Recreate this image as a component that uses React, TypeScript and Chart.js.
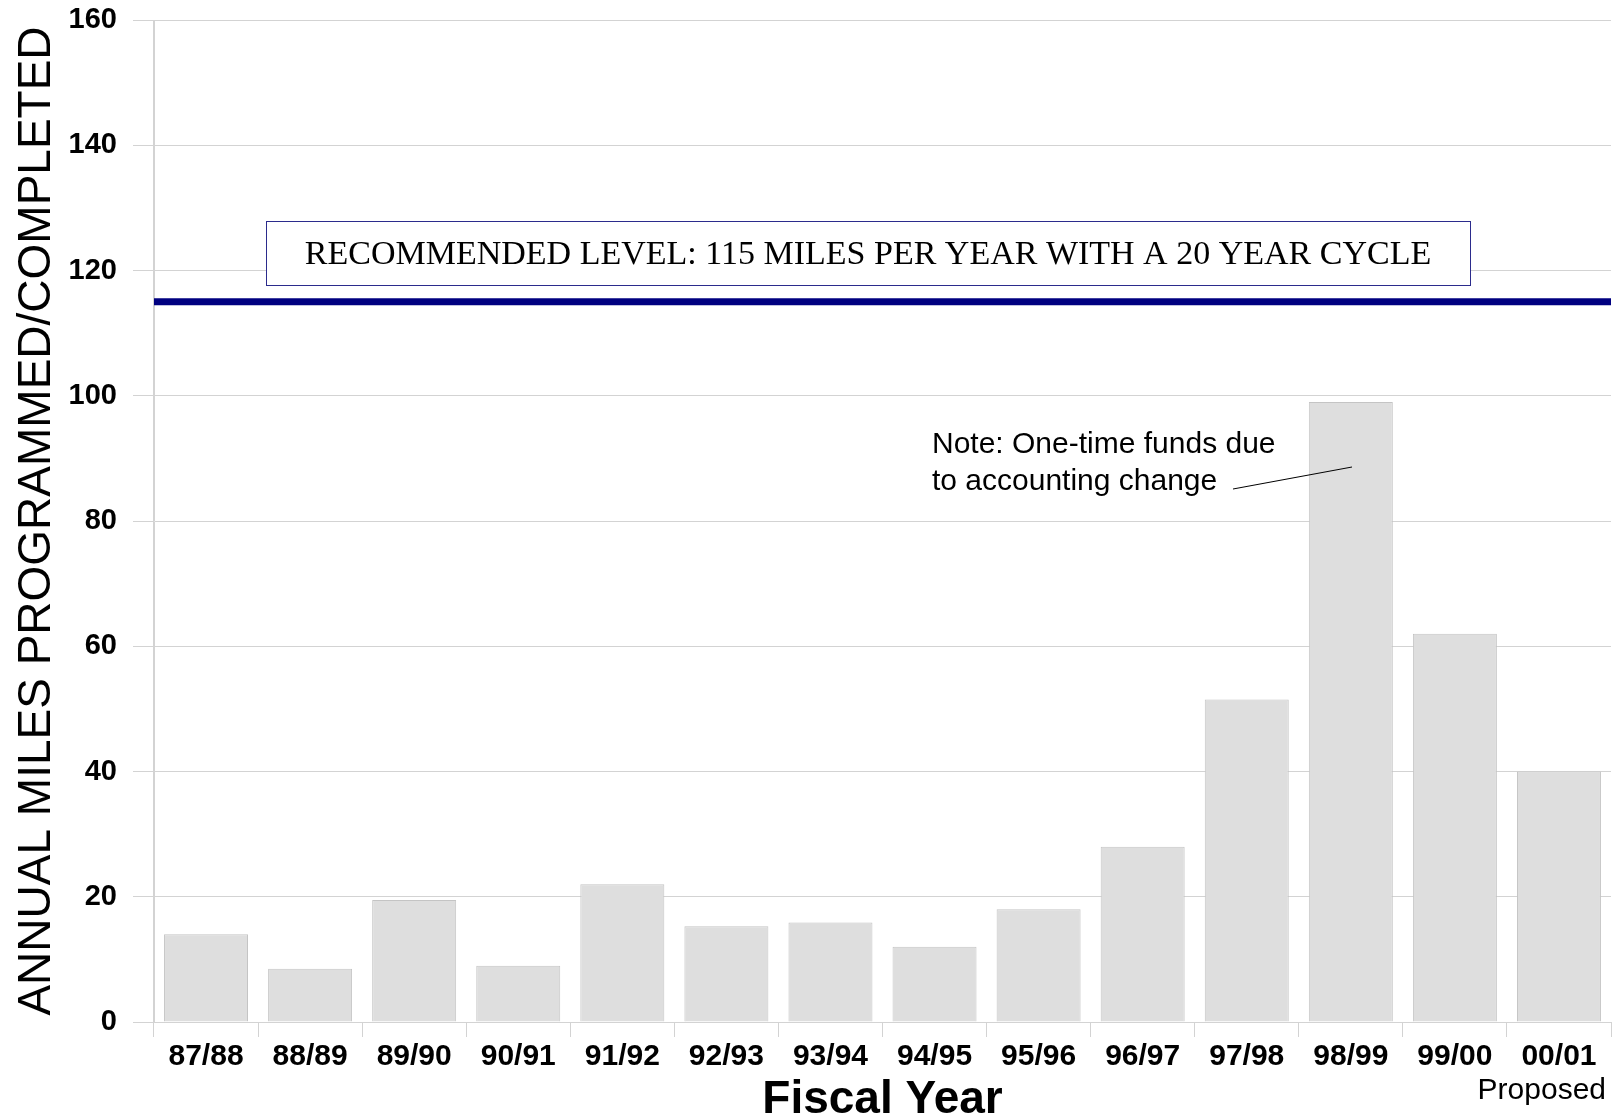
import React, { useEffect, useRef } from "react";
import { Chart, registerables } from "chart.js";

Chart.register(...registerables);

const categories = ["87/88", "88/89", "89/90", "90/91", "91/92", "92/93", "93/94", "94/95", "95/96", "96/97", "97/98", "98/99", "99/00", "00/01"];
const milesCompleted = [14, 8.5, 19.5, 9, 22, 15.3, 15.9, 12, 18, 28, 51.5, 99, 62, 40];
const recommendedLevel = 115;
const yTicks = [0, 20, 40, 60, 80, 100, 120, 140, 160];
const recommendedText = "RECOMMENDED LEVEL: 115 MILES PER YEAR WITH A 20 YEAR CYCLE";
const noteLines = ["Note: One-time funds due", "to accounting change"];
const proposedLabel = "Proposed";
const yTitle = "ANNUAL MILES PROGRAMMED/COMPLETED";
const xTitle = "Fiscal Year";

const SANS = "'Liberation Sans', Arial, sans-serif";
const SERIF = "'Liberation Serif', 'Times New Roman', serif";
const GRID = "#d3d3d3";

const annotationPlugin = {
  id: "annotations",
  afterDraw(chart: any) {
    const ctx = chart.ctx as CanvasRenderingContext2D;
    ctx.save();
    // Recommended level box
    ctx.fillStyle = "#ffffff";
    ctx.fillRect(266, 221, 1204, 64);
    ctx.strokeStyle = "#2b2b8c";
    ctx.lineWidth = 1;
    ctx.strokeRect(266.5, 221.5, 1204, 64);
    ctx.fillStyle = "#000000";
    ctx.font = `34px ${SERIF}`;
    ctx.textAlign = "center";
    ctx.textBaseline = "middle";
    ctx.fillText(recommendedText, 868, 255, 1180);

    // Note text
    ctx.font = `30px ${SANS}`;
    ctx.textAlign = "left";
    ctx.textBaseline = "middle";
    ctx.fillText(noteLines[0], 932, 445);
    ctx.fillText(noteLines[1], 932, 482);

    // Leader line
    ctx.strokeStyle = "#000000";
    ctx.lineWidth = 1;
    ctx.beginPath();
    ctx.moveTo(1233, 489);
    ctx.lineTo(1352, 467);
    ctx.stroke();

    // Proposed label
    ctx.font = `30px ${SANS}`;
    ctx.textAlign = "right";
    ctx.textBaseline = "middle";
    ctx.fillText(proposedLabel, 1606, 1091);
    ctx.restore();
  },
};

export default function App() {
  const canvasRef = useRef<HTMLCanvasElement | null>(null);

  useEffect(() => {
    document.body.style.margin = "0";
    const canvas = canvasRef.current;
    if (!canvas) return;
    const chart = new Chart(canvas, {
      type: "bar",
      data: {
        labels: categories,
        datasets: [
          {
            type: "bar",
            data: milesCompleted,
            backgroundColor: "#dedede",
            borderColor: "#c4c4c4",
            borderWidth: 1,
            barPercentage: 0.807,
            categoryPercentage: 1,
            grouped: false,
            order: 2,
          } as any,
          {
            type: "line",
            data: [
              { x: 0, y: recommendedLevel },
              { x: 1, y: recommendedLevel },
            ],
            xAxisID: "x2",
            borderColor: "#000080",
            borderWidth: 7,
            pointRadius: 0,
            fill: false,
            order: 1,
          } as any,
        ],
      },
      options: {
        animation: false,
        responsive: false,
        maintainAspectRatio: false,
        layout: { padding: { top: 20, right: 3, left: 0, bottom: 0 } },
        plugins: {
          legend: { display: false },
          tooltip: { enabled: false },
          title: { display: false },
        },
        scales: {
          x: {
            type: "category",
            offset: true,
            afterFit(scale: any) {
              scale.height = 97;
              scale.paddingLeft = 0;
              scale.paddingRight = 0;
            },
            grid: {
              offset: true,
              drawOnChartArea: true,
              color: (c: any) => (c.index === 0 || c.index === categories.length ? GRID : "rgba(0,0,0,0)"),
              tickColor: GRID,
              tickLength: 15,
              lineWidth: 1,
            },
            border: { display: true, color: GRID },
            ticks: {
              color: "#000000",
              font: { family: SANS, size: 30, weight: "bold" },
              padding: 2,
              maxRotation: 0,
              autoSkip: false,
            },
            title: {
              display: true,
              text: xTitle,
              color: "#000000",
              font: { family: SANS, size: 46, weight: "bold", lineHeight: 0.8 },
              padding: { top: 0, bottom: 0 },
            },
          },
          x2: {
            type: "linear",
            display: false,
            offset: false,
            min: 0,
            max: 1,
            grid: { offset: false },
          },
          y: {
            type: "linear",
            min: 0,
            max: 160,
            afterFit(scale: any) {
              scale.width = 154;
              scale.paddingTop = 0;
              scale.paddingBottom = 0;
            },
            afterBuildTicks(scale: any) {
              scale.ticks = yTicks.map((v) => ({ value: v }));
            },
            grid: {
              color: GRID,
              tickColor: GRID,
              tickLength: 21,
              lineWidth: 1,
            },
            border: { display: true, color: GRID },
            ticks: {
              color: "#000000",
              font: { family: SANS, size: 29, weight: "bold" },
              padding: 16,
            },
            title: {
              display: true,
              text: yTitle,
              color: "#000000",
              font: { family: SANS, size: 46, weight: "normal", lineHeight: 1.2 },
              padding: { top: 10, bottom: 0 },
            },
          },
        },
      },
      plugins: [annotationPlugin],
    });
    return () => chart.destroy();
  }, []);

  return (
    <div style={{ width: 1614, height: 1119, position: "relative" }}>
      <canvas ref={canvasRef} width={1614} height={1119} style={{ display: "block", width: 1614, height: 1119 }} />
    </div>
  );
}
